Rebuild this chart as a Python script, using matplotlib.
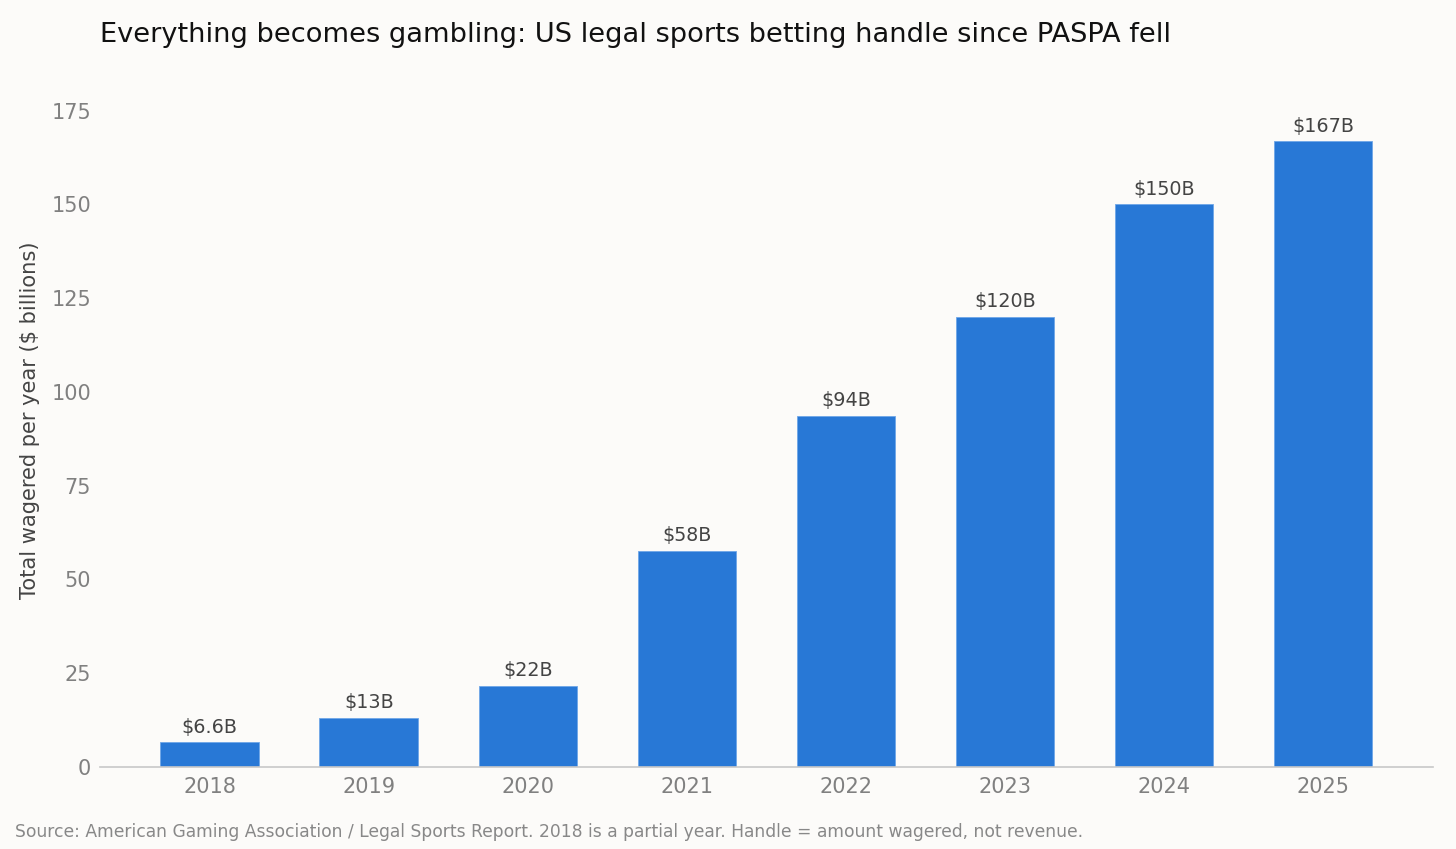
import matplotlib
matplotlib.use("Agg")
import matplotlib.pyplot as plt

plt.rcParams["font.family"] = ["DejaVu Sans"]

years = ["2018", "2019", "2020", "2021", "2022", "2023", "2024", "2025"]
handle = [6.6, 13.1, 21.6, 57.6, 93.6, 120.0, 150.0, 166.8]
yticks = [0, 25, 50, 75, 100, 125, 150, 175]

def fmt(v):
    return f"${v:.1f}B" if v < 10 else f"${v:.0f}B"

bg = "#fcfbf9"
fig = plt.figure(figsize=(14.56, 8.49), dpi=100, facecolor=bg)
ax = fig.add_axes([0.0687, 0.0966, 0.9153, 0.8174])
ax.set_facecolor(bg)

x = list(range(len(years)))
bars = ax.bar(x, handle, width=0.62, color="#2878d6", edgecolor="#6fa6e8", linewidth=0.6, zorder=2)
for xi, v in zip(x, handle):
    ax.annotate(fmt(v), (xi, v), xytext=(0, 4), textcoords="offset points",
                ha="center", va="bottom", fontsize=13.8, color="#444444")

ax.set_xlim(-0.69, 7.69)
ax.set_ylim(0, 185)
ax.set_xticks(x)
ax.set_xticklabels(years)
ax.set_yticks(yticks)
ax.tick_params(axis="both", length=0, labelsize=15, labelcolor="#808080")
ax.tick_params(axis="y", pad=6.5)
ax.tick_params(axis="x", pad=7)
for s in ["top", "right", "left"]:
    ax.spines[s].set_visible(False)
ax.spines["bottom"].set_color("#c8c8c8")
ax.spines["bottom"].set_linewidth(1.2)
ax.set_ylabel("Total wagered per year ($ billions)", fontsize=15.1, color="#444444", labelpad=8)

fig.text(100/1456, 1-35/849, "Everything becomes gambling: US legal sports betting handle since PASPA fell",
         fontsize=19.6, color="#111111", ha="left", va="center")
fig.text(15/1456, 1-832/849, "Source: American Gaming Association / Legal Sports Report. 2018 is a partial year. Handle = amount wagered, not revenue.",
         fontsize=12.37, color="#888888", ha="left", va="center")

fig.savefig("out.png", dpi=100, facecolor=bg)
